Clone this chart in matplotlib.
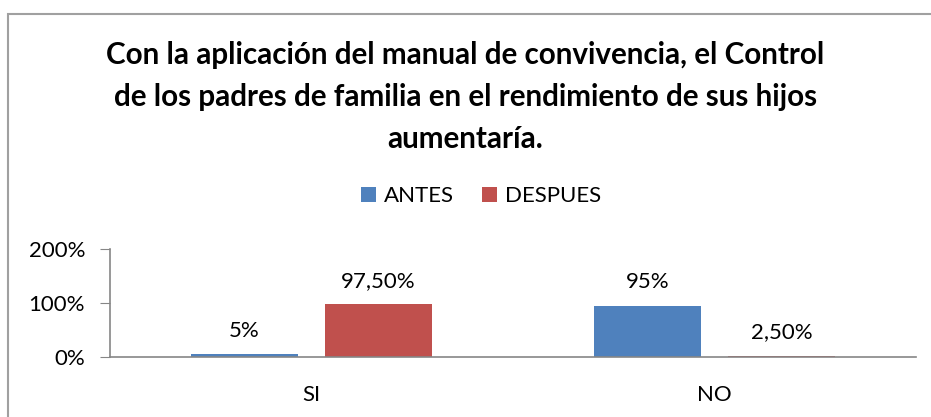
import matplotlib
matplotlib.use("Agg")
import matplotlib.pyplot as plt
from matplotlib.patches import Rectangle
import numpy as np

categories = ["SI", "NO"]
series_names = ["ANTES", "DESPUES"]
antes = [0.05, 0.95]
despues = [0.975, 0.025]
antes_labels = ["5%", "95%"]
despues_labels = ["97,50%", "2,50%"]
yticks = [0, 1, 2]
ytick_labels = ["0%", "100%", "200%"]
title = ("Con la aplicación del manual de convivencia, el Control\n"
         "de los padres de familia en el rendimiento de sus hijos\n"
         "aumentaría.")

colors = ["#4F81BD", "#C0504D"]
font = ["Lato", "DejaVu Sans"]
plt.rcParams['font.family'] = font

W, H = 931, 417
fig = plt.figure(figsize=(W / 100, H / 100), dpi=100)

# axes placement in pixels
x0, x1 = 110, 916
y_top, y_base = 249, 357
ax = fig.add_axes([x0 / W, 1 - y_base / H, (x1 - x0) / W, (y_base - y_top) / H])

x = np.arange(len(categories))
bw = 0.265
off = 0.166
b1 = ax.bar(x - off, antes, bw, color=colors[0], label=series_names[0])
b2 = ax.bar(x + off, despues, bw, color=colors[1], label=series_names[1])

for bars, labs in ((b1, antes_labels), (b2, despues_labels)):
    for rect, lab in zip(bars, labs):
        ax.annotate(lab, (rect.get_x() + rect.get_width() / 2, rect.get_height()),
                    xytext=(0, 17), textcoords="offset points",
                    ha="center", va="center", fontsize=16, color="black")

ax.set_xlim(-0.5, 1.5)
ax.set_ylim(0, 2)
ax.set_yticks(yticks)
ax.set_yticklabels(ytick_labels, fontsize=16)
ax.set_xticks(x)
ax.set_xticklabels(categories, fontsize=16)
ax.tick_params(axis="x", length=0, pad=20)
ax.tick_params(axis="y", length=7, color="#868686", pad=11)
for s in ("top", "right"):
    ax.spines[s].set_visible(False)
for s in ("left", "bottom"):
    ax.spines[s].set_color("#868686")
    ax.spines[s].set_linewidth(1.2)

fig.text(0.5, 1 - 97 / H, title, ha="center", va="center", fontsize=21.3,
         fontweight="bold", linespacing=1.6)

leg = fig.legend(handles=[b1, b2], labels=series_names, loc="center",
                 bbox_to_anchor=(481 / W, 1 - 196 / H), ncol=2, frameon=False,
                 fontsize=16, handlelength=0.65, handleheight=0.65,
                 handletextpad=0.35, columnspacing=1.3)

# chart frame
fig.patches.append(Rectangle((8 / W, -0.05), 1.2, 1 - 14 / H + 0.05,
                             transform=fig.transFigure, fill=False,
                             edgecolor="#A0A0A0", linewidth=1.5))

fig.savefig("out.png", dpi=100)
